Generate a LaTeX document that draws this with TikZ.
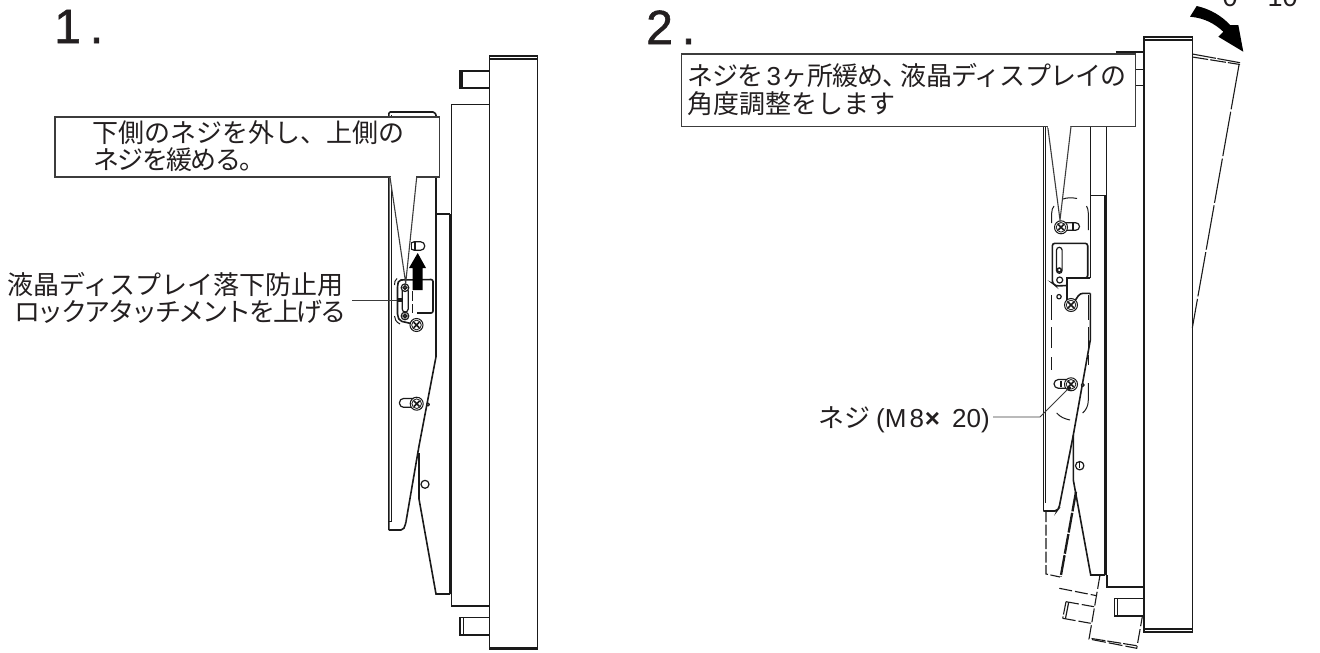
\documentclass[tikz,border=0pt]{standalone}
\usepackage{fontspec}
\setmainfont{Liberation Sans}
\newfontfamily\jp{Noto Sans CJK JP}
\newfontfamily\jpt[LetterSpace=-9.5]{Noto Sans CJK JP}
\newfontfamily\jpm[LetterSpace=-6]{Noto Sans CJK JP}
\newfontfamily\jps[LetterSpace=-3]{Noto Sans CJK JP}
\newfontfamily\lb[FakeBold=1.2]{Liberation Sans}
\newcommand\lss{\fontsize{26}{26}\selectfont}
\definecolor{ink}{HTML}{1A1A1A}
\definecolor{txt}{HTML}{231F20}
\tikzset{
  ln/.style={draw=ink,line width=1.2pt,line join=round},
  hv/.style={draw=ink,line width=1.6pt,line join=miter},
  thk/.style={draw=ink,line width=2.8pt},
  thin/.style={draw=ink,line width=1pt},
  ds/.style={draw=ink,line width=1.1pt,dash pattern=on 11pt off 2.5pt},
  ldr/.style={draw=ink!85,line width=0.9pt},
  box/.style={draw=ink!85,fill=white,line width=1.1pt,line join=miter},
  jl/.style={anchor=base west,inner sep=0pt,text=txt,font=\jp\lss},
  nm/.style={anchor=base west,inner sep=0pt,text=txt,font=\lb\fontsize{48}{48}\selectfont},
}
\newcommand\screw[2]{%
  \draw[fill=white,line width=1pt,draw=ink] (#1,#2) circle[radius=6.5pt];
  \draw[line width=0.8pt,draw=ink] (#1,#2) circle[radius=4.8pt];
  \draw[line width=1.6pt,draw=ink] (#1-2.8,#2-2.8) -- (#1+2.8,#2+2.8) (#1-2.8,#2+2.8) -- (#1+2.8,#2-2.8);
}
\newcommand\smallscrew[2]{%
  \draw[ln,fill=white] (#1,#2) circle[radius=3.8pt];
  \draw[line width=1.5pt,draw=ink] (#1,#2) circle[radius=1.7pt];
}
\begin{document}
\begin{tikzpicture}[x=1pt,y=-1pt]
\path[use as bounding box,clip] (0,0) rectangle (1320,653);
\fill[white] (0,0) rectangle (1320,653);
% ---------- panel 1 ----------
\draw[hv] (489.3,56) rectangle (537.3,649);
\draw[ln] (489.3,59) -- (537.3,59) (489.3,647.5) -- (537.3,647.5);
\draw[hv] (460,70.7) rectangle (489.3,88);
\draw[thk,line width=2pt] (462,70.7) -- (462,88);
\draw[hv] (460,617.5) rectangle (489.3,635);
\draw[ln] (463.5,617.5) -- (463.5,635);
\draw[hv] (489.3,104.3) -- (451.3,104.3) -- (451.3,606) -- (489.3,606);
\draw[hv] (436,214) -- (450,214);
\draw[thk] (450,214) -- (450,594);
\draw[hv] (388.8,530) -- (388.8,115) [rounded corners=1.5pt] -- (388.8,112) -- (434.5,112) -- (436,115);
\draw[ln] (391.2,115) -- (391.2,522) (389,521.5) -- (391.2,521.5);
\draw[hv,rounded corners=2pt] (388.8,530) -- (403,530) -- (405,526) -- (406,521.7);
\draw[hv] (406,521.7) -- (419,446) -- (436,356.7) -- (436,115);
\draw[hv] (419,453) -- (419,499) -- (436,594) -- (450,594);
\draw[ln,fill=white] (425,484.3) circle[radius=4pt];
\draw[ln,fill=white] (428,404.5) circle[radius=1.5pt];
% slots
\draw[ln,fill=white,rounded corners=4pt] (399.5,398.5) rectangle (418,407.3);
\screw{416.7}{403.7}
\draw[ln,rounded corners=4pt] (410,241.8) rectangle (424.7,250.2);
\fill[white] (408,240) rectangle (411.5,252);
\draw[ln] (411.5,241.8) -- (411.5,250.2);
\draw[ln] (415,241.8) -- (415,250.2);
% plate
\draw[hv,rounded corners=2pt,fill=white] (417,313) -- (433,313) -- (433,279.5) -- (399,280) -- (397.5,285) -- (397.5,316) -- (400,321) -- (411,323.5);
\draw[line width=4.5pt,draw=ink] (397,300) -- (402,300);
\draw[ln,rounded corners=3pt] (402.2,288) rectangle (408.2,312);
\draw[ln,dash pattern=on 10pt off 3pt] (412.5,291) -- (412.5,313);
\screw{416.5}{325}
\smallscrew{405}{287.7}
\smallscrew{405}{316}
\draw[thin] (394.5,285) .. controls (394.5,282) and (395,280) .. (397,278.5);
\draw[thin] (394.5,316) .. controls (394.5,319) and (396,322) .. (400,324);
\draw[ln] (436.5,285) -- (436.5,300);
% arrow
\fill[black] (417.7,253) -- (426,268) -- (422.7,268) -- (422.7,290) -- (412.7,290) -- (412.7,268) -- (409,268) -- cycle;
% callout 1
\path[box] (55,117) rectangle (439.3,177);
\path[box] (390,177.2) -- (405.7,283) -- (416.7,177.2);
\fill[white] (390.6,176) rectangle (416.2,178);
\node[jl] (c1a) at (92,142) {下側のネジを外し、上側の};
\node[jl] (c1b) at (93,169) {{\jpm ネジを緩める。}};
\node[jl] (lab1a) at (7,294) {液晶ディスプレイ落下防止用};
\node[jl] (lab1b) at (14,321) {{\jpt ロックアタッチメントを上げる}};
\coordinate (l1s) at (352,300);
\coordinate (l1e) at (397,300);
\draw[ldr] (l1s) -- (l1e);
\node[nm] (n1) at (54,43) {1\kern 9pt.};
% ---------- panel 2 ----------
\draw[hv] (1144,36.7) rectangle (1192.3,632);
\draw[ln] (1144,40) -- (1192.3,40) (1144,629) -- (1192.3,629);
\draw[hv] (1115.7,51.8) -- (1144,51.8);
\draw[hv] (1135,69.3) -- (1144,69.3) (1135,85.3) -- (1144,85.3);
\draw[hv] (1114.3,598.3) rectangle (1144,615.7);
\draw[ln] (1117.7,598.3) -- (1117.7,615.7);
\draw[hv] (1106.3,120) -- (1106.3,195.3) (1090.3,195.3) -- (1105,195.3);
\draw[thk] (1105.5,195.3) -- (1105.5,575);
\draw[hv] (1106.8,575) -- (1106.8,587) -- (1144,587);
\draw[hv] (1043.3,120) -- (1043.3,511);
\draw[ln] (1045.6,120) -- (1045.6,503);
\draw[hv,rounded corners=2pt] (1043.3,511) -- (1056.7,511) -- (1059,508) -- (1060,503);
\draw[hv] (1060,503) -- (1073.3,435) -- (1090.3,340) -- (1090.3,293.3);
\draw[hv] (1090.3,120) -- (1090.3,278);
\draw[hv] (1073.3,435) -- (1073.3,480) -- (1090.7,575) -- (1105,575);
% plate 2
\draw[hv,rounded corners=2.5pt] (1066.7,278) -- (1087.7,278) -- (1087.7,243.3) -- (1052.3,243.3) -- (1052.3,283) -- (1056,286) -- (1066.7,285.5);
\draw[hv] (1090.3,278) -- (1066.7,278) -- (1066.7,300);
\draw[hv,rounded corners=3pt] (1075.5,300) -- (1080,293.3) -- (1090.3,293.3);
\draw[ln,rounded corners=2.8pt] (1056.5,247.3) rectangle (1062.1,273.3);
\draw[line width=1.5pt,draw=ink] (1059.3,270) circle[radius=2pt];
\draw[ln] (1059.7,280) circle[radius=3pt];
\draw[ln] (1059,296.7) circle[radius=2.2pt];
\screw{1071}{305}
% slots 2
\draw[ln,rounded corners=3.7pt] (1060,222.8) rectangle (1079.5,230.2);
\draw[ln] (1073,222.8) -- (1073,230.2);
\screw{1061}{227.3}
\draw[ln,rounded corners=4.4pt] (1054,379.5) rectangle (1072,388.3);
\draw[ln] (1061,381) -- (1061,387);
\screw{1071}{384.3}
\draw[ln,fill=white] (1082.7,385) circle[radius=1.5pt];
\draw[ln] (1079.7,465.7) circle[radius=4.2pt];
\draw[ln] (1079.7,462) -- (1079.7,468);
% dashed curved outline
\draw[thin] (1063,199) .. controls (1067,197.5) and (1072,197.5) .. (1077,198.5);
\draw[thin] (1051.7,223) -- (1051.7,213) .. controls (1051.7,210) and (1052.5,208) .. (1054,206);
\draw[thin] (1088.3,230) -- (1088.3,213) .. controls (1088.3,210) and (1087.5,208) .. (1086.5,206);
\draw[thin] (1051.7,295) -- (1051.7,320) (1051.7,327) -- (1051.7,348) (1051.7,357) -- (1051.7,370);
\draw[thin] (1088.3,295) -- (1088.3,320) (1088.3,327) -- (1088.3,348) (1088.3,355) -- (1088.3,365);
\draw[thin] (1088.3,383) -- (1088.3,400) .. controls (1088.3,406) and (1086,410) .. (1082.7,413);
\draw[thin] (1056.7,413) .. controls (1060,417) and (1065,419) .. (1070,420);
% dashed tilted panel
\draw[ds,dash pattern=on 24pt off 1.5pt on 30pt off 1.5pt] (1192.3,54) -- (1240,62.7);
\draw[ds,dash pattern=on 16pt off 2pt] (1192.3,57) -- (1240,64.5);
\draw[ds,dash pattern=on 45pt off 2.5pt] (1239,65) -- (1192.3,328);
% lower dashed
\draw[ds] (1046,511) -- (1046,574) -- (1060,577);
\draw[ds,line width=2.3pt,dash pattern=on 20pt off 1.5pt] (1076,491.7) -- (1060.7,576.7);
\draw[ds,dash pattern=on 13pt off 3pt] (1059.3,588.3) -- (1096.7,595.7);
\draw[ds,dash pattern=on 14pt off 3pt] (1100,575) -- (1089,639) -- (1136.7,648.3) -- (1142.3,616.7);
\draw[ds,dash pattern=on 14pt off 2pt] (1091.5,638.5) -- (1136.7,645.7);
\draw[ds,dash pattern=on 13pt off 3pt] (1066,601.7) -- (1094,606.7);
\draw[ds,dash pattern=on 13pt off 3pt] (1062.7,618.3) -- (1090.7,623.3);
\draw[ds,dash pattern=on 13pt off 2pt] (1066,601.7) -- (1062.7,618.3);
\draw[ln] (1068.7,602.2) -- (1065.4,618.8);
% big arrow
\fill[black] (1190,16.7) -- (1196.7,6) .. controls (1210,9) and (1222,16) .. (1230,25) -- (1238.3,25) -- (1243.3,51.7) -- (1218.3,36.7) -- (1223.3,31.7) .. controls (1215,24) and (1205,18) .. (1190,16.7) -- cycle;
% callout 2
\path[box] (681.3,54) rectangle (1135.3,126.3);
\path[box] (1047.7,126.5) -- (1060,220) -- (1071,126.5);
\fill[white] (1048.3,125.3) rectangle (1070.4,127.5);
\node[jl] (c2a) at (687,85) {{\jps ネジを}\kern 3pt\fontspec{Liberation Sans}3{\jpm ヶ}{\jps 所緩め、}\kern -8pt{\jps 液晶ディスプレイの}};
\node[jl] (c2b) at (687,113) {角度調整をします};
\node[nm] (n2) at (646,44) {2\kern 9pt.};
\node[jl] (lab2) at (818,427) {ネジ\kern 6pt\fontspec{Liberation Sans}(M\kern 3pt 8\kern 1pt{\bfseries ×}\kern 12pt 20)};
\coordinate (l2s) at (993,417);
\coordinate (l2m) at (1040,417);
\coordinate (l2e) at (1069,388);
\draw[ldr] (l2s) -- (l2m) -- (l2e);
\fill[ink] (l2e) circle[radius=2pt];
\node[anchor=base west,inner sep=0pt,text=txt,font=\fontsize{27}{27}\selectfont] (ang) at (1222.5,6) {0\kern 30pt 10};
\end{tikzpicture}
\end{document}
